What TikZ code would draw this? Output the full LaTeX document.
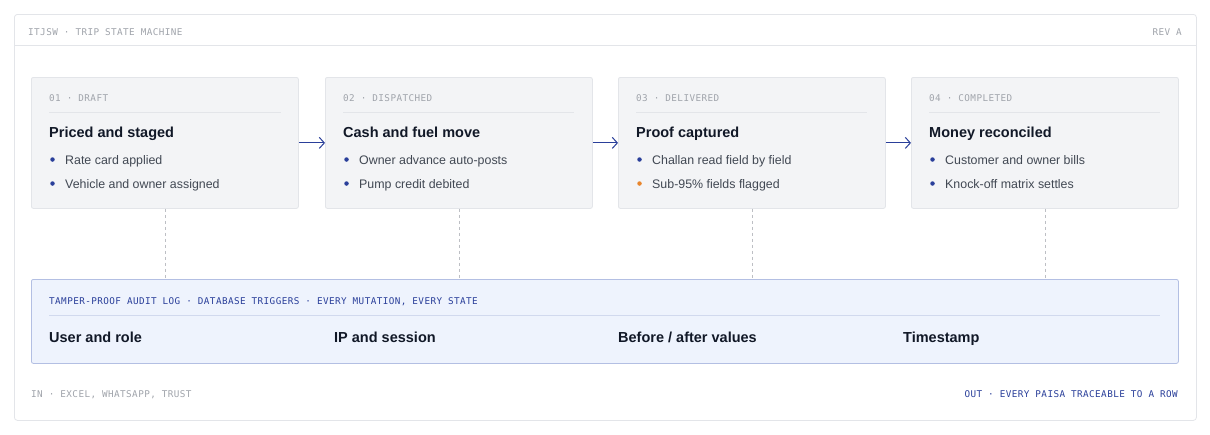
\documentclass[tikz,border=0pt]{standalone}
\usepackage{fontspec}
\setmainfont{Liberation Sans}
\setmonofont[LetterSpace=4.5]{DejaVu Sans Mono}
\usepackage{tikz}
\usepackage{xcolor}
\usetikzlibrary{arrows.meta, positioning, calc}
\definecolor{tripLine}{HTML}{E3E5E9}
\definecolor{tripFill}{HTML}{F3F4F6}
\definecolor{tripInk}{HTML}{111827}
\definecolor{tripBody}{HTML}{414853}
\definecolor{tripMute}{HTML}{A0A4AB}
\definecolor{tripNavy}{HTML}{2A3F9A}
\definecolor{tripAmber}{HTML}{E8852C}
\definecolor{logFill}{HTML}{EEF3FD}
\definecolor{logLine}{HTML}{B3BFE3}

\begin{document}
\begin{tikzpicture}[
        x=1pt, y=-1pt,
        frame/.style={rectangle, rounded corners=3pt, draw=tripLine, line width=0.8pt, fill=white},
        stage/.style={rectangle, rounded corners=2pt, draw=tripLine, line width=0.8pt, fill=tripFill, minimum width=267pt, minimum height=131pt, anchor=north west, inner sep=0pt},
        logbox/.style={rectangle, rounded corners=2pt, draw=logLine, line width=0.8pt, fill=logFill, minimum width=1147pt, minimum height=84pt, anchor=north west, inner sep=0pt},
        tag/.style={anchor=base west, inner sep=0pt, text=tripMute, font=\ttfamily\fontsize{9.3}{12}\selectfont},
        navytag/.style={tag, text=tripNavy},
        title/.style={anchor=base west, inner sep=0pt, text=tripInk, font=\bfseries\fontsize{14.5}{17}\selectfont},
        item/.style={anchor=base west, inner sep=0pt, text=tripBody, font=\fontsize{12.4}{14}\selectfont},
        dot/.style={circle, fill=tripNavy, inner sep=0pt, minimum size=4.5pt},
        warn/.style={dot, fill=tripAmber},
        rule/.style={draw=tripLine, line width=0.8pt},
        flow/.style={draw=tripNavy, line width=1pt, -{Straight Barb[length=5pt, width=11pt]}},
        tether/.style={draw=tripMute!70, line width=0.8pt, dash pattern=on 3pt off 3pt}
    ]
        \useasboundingbox (0,0) rectangle (1210,434);

        % --- Outer frame and header ---
        \node[frame, minimum width=1182pt, minimum height=406pt, anchor=north west, inner sep=0pt] (frame) at (14,14) {};
        \draw[rule] (14,45) -- (1196,45);
        \node[tag] (head) at (28,35) {ITJSW · TRIP STATE MACHINE};
        \node[tag, anchor=base east] (rev) at (1182,35) {REV A};

        % --- Stage 01: draft ---
        \node[stage] (s1) at (31,77) {};
        \node[tag] (s1tag) at (49,101.5) {01 · DRAFT};
        \draw[rule] (49,112) -- (281,112);
        \node[title] (s1head) at (49,137.3) {Priced and staged};
        \node[dot] (s1d1) at (52.5,159.5) {};
        \node[item] (s1i1) at (65,164) {Rate card applied};
        \node[dot] (s1d2) at (52.5,183.5) {};
        \node[item] (s1i2) at (65,188) {Vehicle and owner assigned};

        % --- Stage 02: dispatched ---
        \node[stage] (s2) at (325,77) {};
        \node[tag] (s2tag) at (343,101.5) {02 · DISPATCHED};
        \draw[rule] (343,112) -- (574,112);
        \node[title] (s2head) at (343,137.3) {Cash and fuel move};
        \node[dot] (s2d1) at (346.5,159.5) {};
        \node[item] (s2i1) at (359,164) {Owner advance auto-posts};
        \node[dot] (s2d2) at (346.5,183.5) {};
        \node[item] (s2i2) at (359,188) {Pump credit debited};

        % --- Stage 03: delivered ---
        \node[stage] (s3) at (618,77) {};
        \node[tag] (s3tag) at (636,101.5) {03 · DELIVERED};
        \draw[rule] (636,112) -- (867,112);
        \node[title] (s3head) at (636,137.3) {Proof captured};
        \node[dot] (s3d1) at (639.5,159.5) {};
        \node[item] (s3i1) at (652,164) {Challan read field by field};
        \node[warn] (s3d2) at (639.5,183.5) {};
        \node[item] (s3i2) at (652,188) {Sub-95\% fields flagged};

        % --- Stage 04: completed ---
        \node[stage] (s4) at (911,77) {};
        \node[tag] (s4tag) at (929,101.5) {04 · COMPLETED};
        \draw[rule] (929,112) -- (1160,112);
        \node[title] (s4head) at (929,137.3) {Money reconciled};
        \node[dot] (s4d1) at (932.5,159.5) {};
        \node[item] (s4i1) at (945,164) {Customer and owner bills};
        \node[dot] (s4d2) at (932.5,183.5) {};
        \node[item] (s4i2) at (945,188) {Knock-off matrix settles};

        % --- Transitions ---
        \draw[flow] (s1.east) -- (s2.west);
        \draw[flow] (s2.east) -- (s3.west);
        \draw[flow] (s3.east) -- (s4.west);

        % --- Audit log ---
        \node[logbox] (log) at (31,279) {};
        \node[navytag] (logtag) at (49,304.3) {TAMPER-PROOF AUDIT LOG · DATABASE TRIGGERS · EVERY MUTATION, EVERY STATE};
        \draw[draw=logLine!60, line width=0.8pt] (49,315) -- (1160,315);
        \node[title] (lg1) at (49,342.3) {User and role};
        \node[title] (lg2) at (334,342.3) {IP and session};
        \node[title] (lg3) at (618,342.3) {Before / after values};
        \node[title] (lg4) at (903,342.3) {Timestamp};

        \draw[tether] (s1.south) -- (s1.south |- log.north);
        \draw[tether] (s2.south) -- (s2.south |- log.north);
        \draw[tether] (s3.south) -- (s3.south |- log.north);
        \draw[tether] (s4.south) -- (s4.south |- log.north);

        % --- Footer ---
        \node[tag] (inlbl) at (31,397) {IN · EXCEL, WHATSAPP, TRUST};
        \node[navytag, anchor=base east] (outlbl) at (1178,397) {OUT · EVERY PAISA TRACEABLE TO A ROW};
    \end{tikzpicture}
\end{document}
